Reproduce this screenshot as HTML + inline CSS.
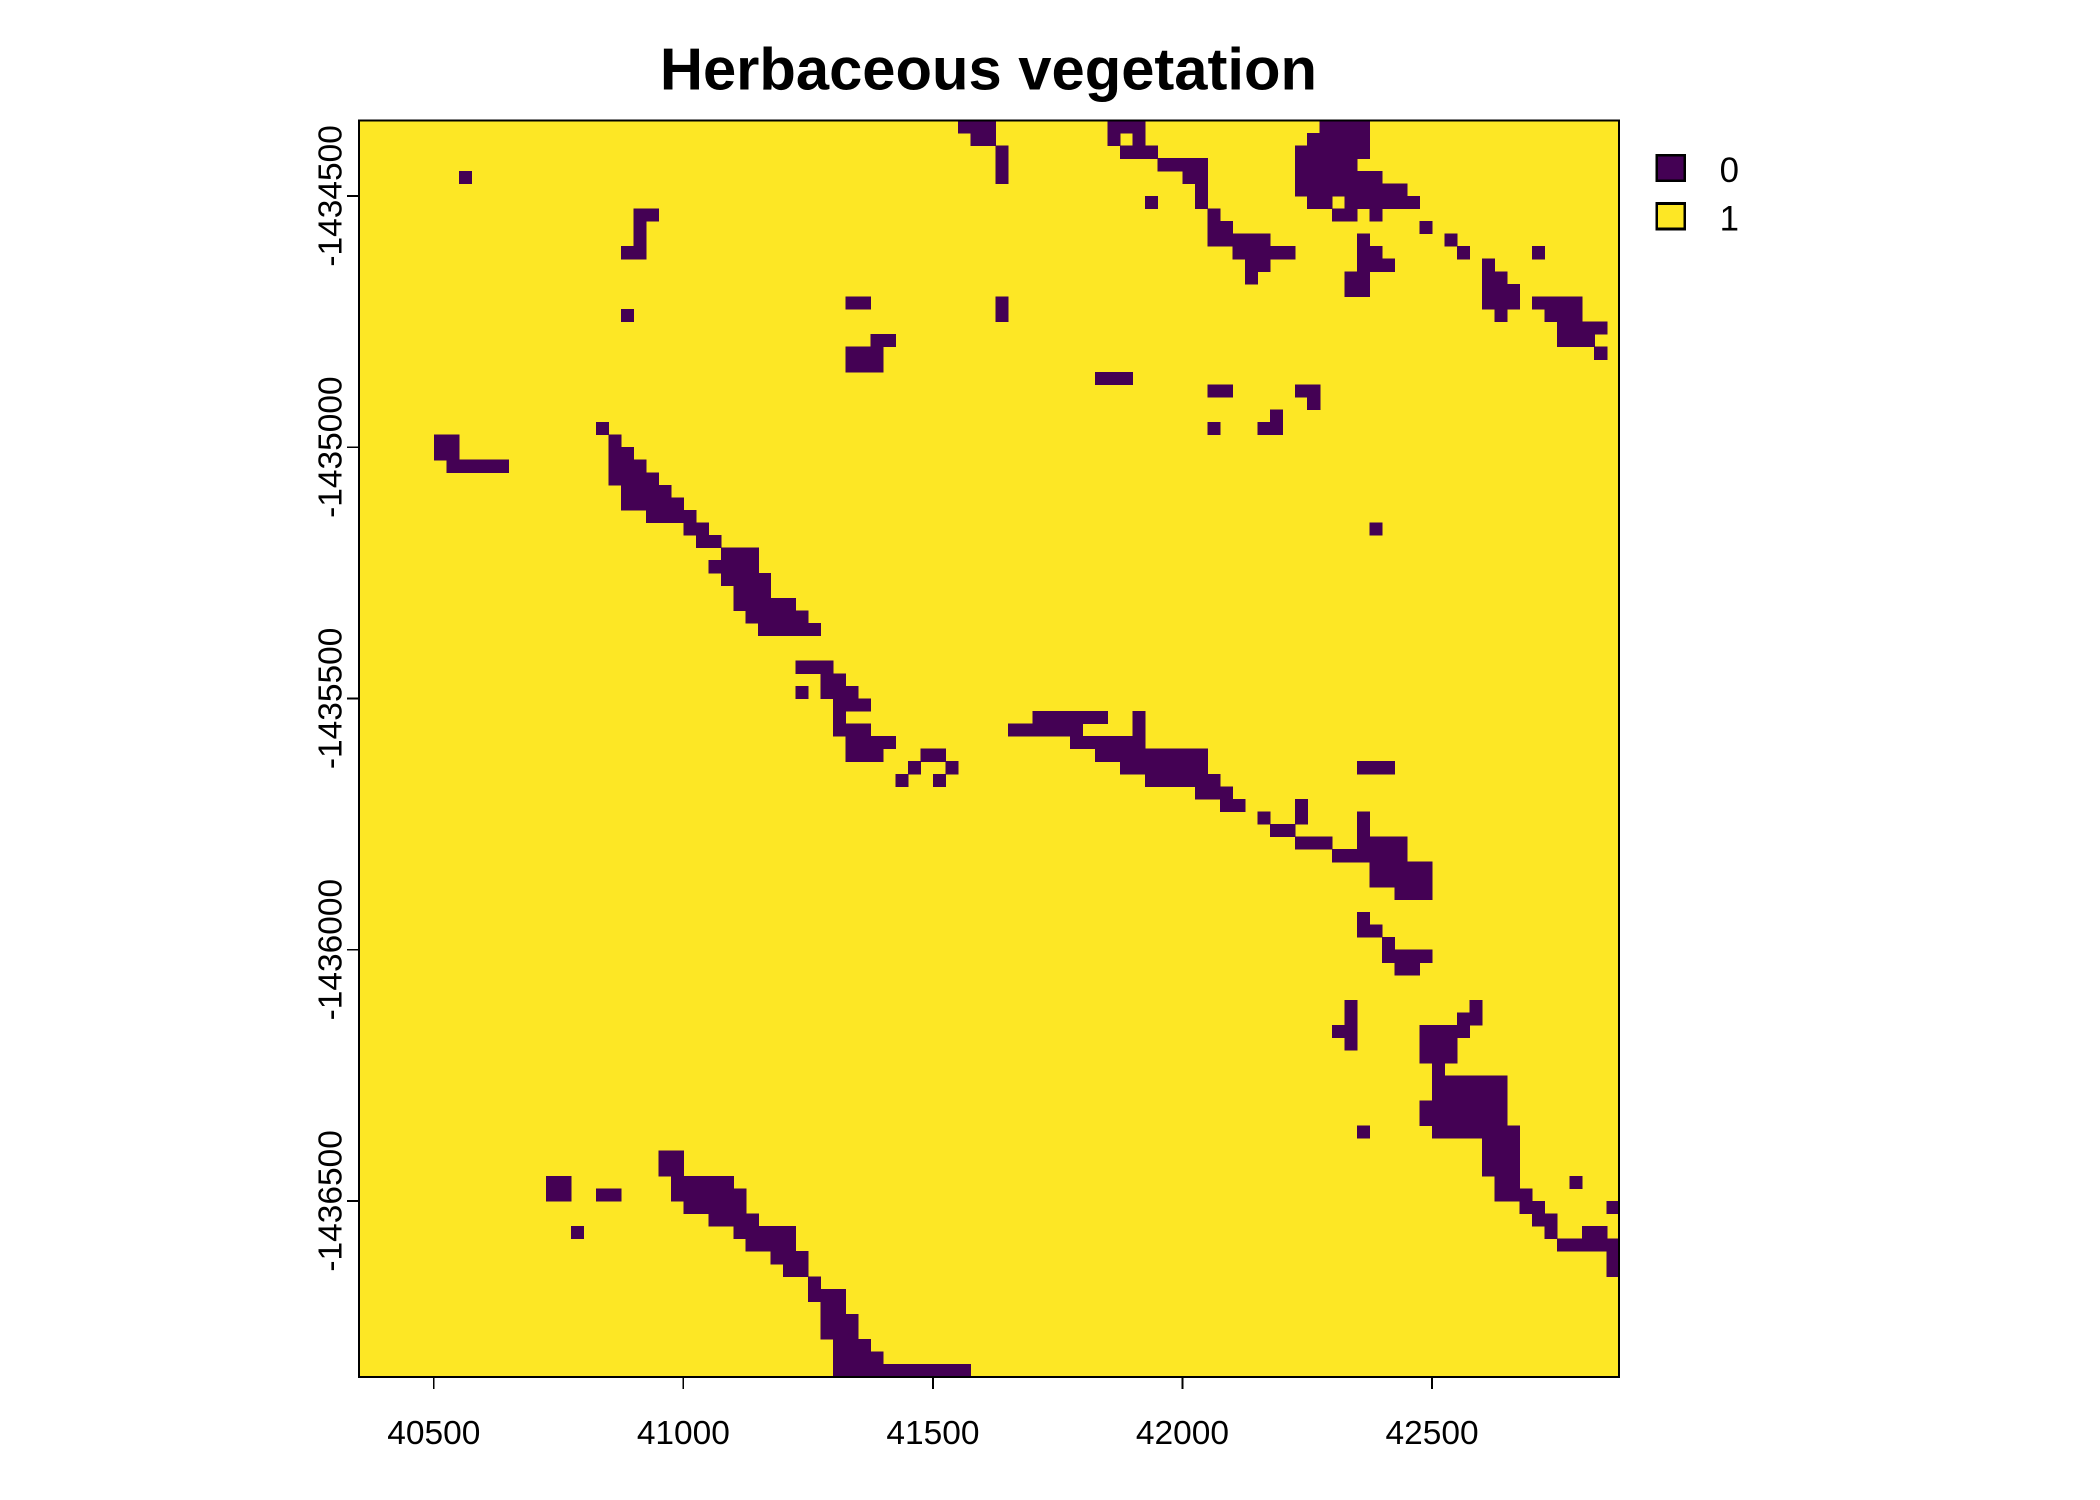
<!DOCTYPE html>
<html><head><meta charset="utf-8"><style>
html,body{margin:0;padding:0;background:#fff;}
svg{display:block;font-family:"Liberation Sans",Arial,sans-serif;}
</style></head><body>
<svg id="chart" width="2100" height="1500" viewBox="0 0 1568 1120" shape-rendering="crispEdges">
<rect x="0" y="0" width="1568" height="1120" fill="#fff"/>
<text x="738" y="67" font-size="44.6" font-weight="bold" text-anchor="middle">Herbaceous vegetation</text>
<g id="plot"></g>
<g id="axes"></g>
<g>
<rect x="1237" y="116" width="21" height="19" fill="#440154" stroke="#000" stroke-width="2"/>
<text x="1284" y="136" font-size="26">0</text>
<rect x="1237" y="152" width="21" height="19" fill="#FDE725" stroke="#000" stroke-width="2"/>
<text x="1284" y="172" font-size="26">1</text>
</g>
</svg>
<script>
// grid: 101 cols x 100 rows of 25 m cells
const xMin = 40350, xMax = 42875, yMax = -1434350, yMin = -1436850;
const nCols = 101, nRows = 100;
const xTicks = [40500, 41000, 41500, 42000, 42500];
const yTicks = [-1434500, -1435000, -1435500, -1436000, -1436500];
// class-0 patches: [col, row, ncols, nrows]
const zeroPatches = [
[48,0,3,1],[49,1,2,1],[51,2,1,3],
[60,0,3,1],[62,1,1,1],[60,1,1,1],[61,2,3,1],[64,3,4,1],[66,4,2,1],[63,6,1,1],[67,5,1,2],[68,7,1,1],
[68,8,2,2],[70,9,3,2],[72,10,3,1],[71,11,2,1],[71,12,1,1],
[77,0,4,1],[76,1,5,1],[75,2,5,3],[80,2,1,1],[75,4,6,1],[81,4,1,1],[75,5,7,1],[76,6,2,1],[79,6,5,1],[78,7,2,1],[81,7,1,1],[84,6,1,1],[82,5,2,1],[83,6,2,1],
[85,8,1,1],[87,9,1,1],[88,10,1,1],[94,10,1,1],
[80,9,1,1],[80,10,2,1],[80,11,3,1],[79,12,2,1],[79,13,2,1],[82,11,1,1],
[90,11,1,1],[90,12,2,1],[90,13,3,2],[91,15,1,1],
[94,14,4,1],[95,15,3,1],[96,16,3,1],[96,17,3,1],[99,16,1,1],[99,18,1,1],
[8,4,1,1],[22,7,2,1],[22,8,1,3],[21,10,2,1],[21,15,1,1],[39,14,2,1],[51,14,1,2],[41,17,2,1],[39,18,3,2],
[59,20,3,1],[68,21,2,1],[75,21,2,1],[76,22,1,1],[68,24,1,1],[73,23,1,1],[72,24,2,1],[81,32,1,1],
[6,25,2,2],[7,27,5,1],[7,26,1,1],
[19,24,1,1],[20,25,1,1],[20,26,2,1],[20,27,3,1],[20,28,4,1],[21,29,4,1],[21,30,5,1],[23,31,4,1],[26,32,2,1],[27,33,2,1],
[29,34,3,1],[28,35,4,1],[29,36,4,1],[30,37,3,1],[30,38,5,1],[31,39,5,1],[32,40,5,1],
[35,43,3,1],[37,44,2,1],[35,45,1,1],[37,45,3,1],[38,46,3,1],[38,47,1,1],[38,48,3,1],[39,49,4,1],[39,50,3,1],
[45,50,2,1],[44,51,1,1],[47,51,1,1],[43,52,1,1],[46,52,1,1],
[52,48,6,1],[54,47,6,1],[57,49,5,1],[62,47,1,4],[59,50,9,1],[61,51,7,1],[63,52,6,1],[67,53,3,1],[69,54,2,1],[72,55,1,1],[75,54,1,2],
[73,56,2,1],[75,57,3,1],[78,58,3,1],[80,55,1,2],[80,57,4,2],[81,59,5,2],[83,61,3,1],[80,51,3,1],
[80,63,1,2],[81,64,1,1],[82,65,1,1],[82,66,4,1],[83,67,2,1],
[79,70,1,4],[78,72,1,1],
[85,72,4,1],[85,73,3,2],[89,70,1,2],[88,71,1,2],[86,75,1,1],[86,76,6,5],[85,78,1,2],[90,80,3,4],[91,84,2,2],[93,85,1,1],
[93,86,2,1],[94,87,2,1],[95,88,1,1],[96,89,2,1],[97,84,1,1],[98,88,2,2],[99,89,2,1],[100,90,1,2],[100,86,1,1],[80,80,1,1],
[15,84,2,2],[19,85,2,1],[17,88,1,1],
[24,82,2,2],[25,84,5,1],[25,85,6,1],[26,86,5,1],[28,87,4,1],[30,88,5,1],[31,89,4,1],[33,90,3,1],[34,91,2,1],[36,92,1,1],[36,93,3,1],
[37,94,2,1],[37,95,3,2],[38,97,3,2],[38,98,4,1],[38,99,11,1]
];
const L = 268, R = 1209, T = 90, B = 1028;
const sx = v => L + (v - xMin) / (xMax - xMin) * (R - L);
const sy = v => T + (yMax - v) / (yMax - yMin) * (B - T);
const cw = (R - L) / nCols, ch = (B - T) / nRows;
const NS = "http://www.w3.org/2000/svg";
const plot = document.getElementById('plot');
const axes = document.getElementById('axes');
const bg = document.createElementNS(NS, 'rect');


bg.setAttribute('x', L); bg.setAttribute('y', T); bg.setAttribute('width', R - L); bg.setAttribute('height', B - T);
bg.setAttribute('fill', '#FDE725');
plot.appendChild(bg);
zeroPatches.forEach(p => {
  const r = document.createElementNS(NS, 'rect');
  
  
  const x0 = sx(xMin + p[0] * 25), y0 = sy(yMax - p[1] * 25);
  r.setAttribute('x', x0); r.setAttribute('y', y0);
  r.setAttribute('width', Math.min(p[2] * cw + 0.4, R - x0)); r.setAttribute('height', Math.min(p[3] * ch + 0.4, B - y0));
  r.setAttribute('fill', '#440154');
  plot.appendChild(r);
});
const frame = document.createElementNS(NS, 'rect');


frame.setAttribute('x', L); frame.setAttribute('y', T); frame.setAttribute('width', R - L); frame.setAttribute('height', B - T);
frame.setAttribute('fill', 'none'); frame.setAttribute('stroke', '#000'); frame.setAttribute('stroke-width', '1.5');
axes.appendChild(frame);
xTicks.forEach(v => {
  const x = sx(v);
  const l = document.createElementNS(NS, 'line');
  
  
  l.setAttribute('x1', x); l.setAttribute('x2', x); l.setAttribute('y1', B); l.setAttribute('y2', B + 9);
  l.setAttribute('stroke', '#000'); l.setAttribute('stroke-width', '1.3');
  axes.appendChild(l);
  const t = document.createElementNS(NS, 'text');
  
  
  t.setAttribute('x', x); t.setAttribute('y', B + 50); t.setAttribute('font-size', '25'); t.setAttribute('text-anchor', 'middle');
  t.textContent = v;
  axes.appendChild(t);
});
yTicks.forEach(v => {
  const y = sy(v);
  const l = document.createElementNS(NS, 'line');
  
  
  l.setAttribute('x1', L - 9); l.setAttribute('x2', L); l.setAttribute('y1', y); l.setAttribute('y2', y);
  l.setAttribute('stroke', '#000'); l.setAttribute('stroke-width', '1.3');
  axes.appendChild(l);
  const t = document.createElementNS(NS, 'text');
  
  
  t.setAttribute('x', 0); t.setAttribute('y', 0); t.setAttribute('font-size', '25'); t.setAttribute('text-anchor', 'middle');
  t.setAttribute('transform', 'translate(' + (L - 13) + ',' + y + ') rotate(-90)');
  t.textContent = v;
  axes.appendChild(t);
});
</script>
</body></html>
